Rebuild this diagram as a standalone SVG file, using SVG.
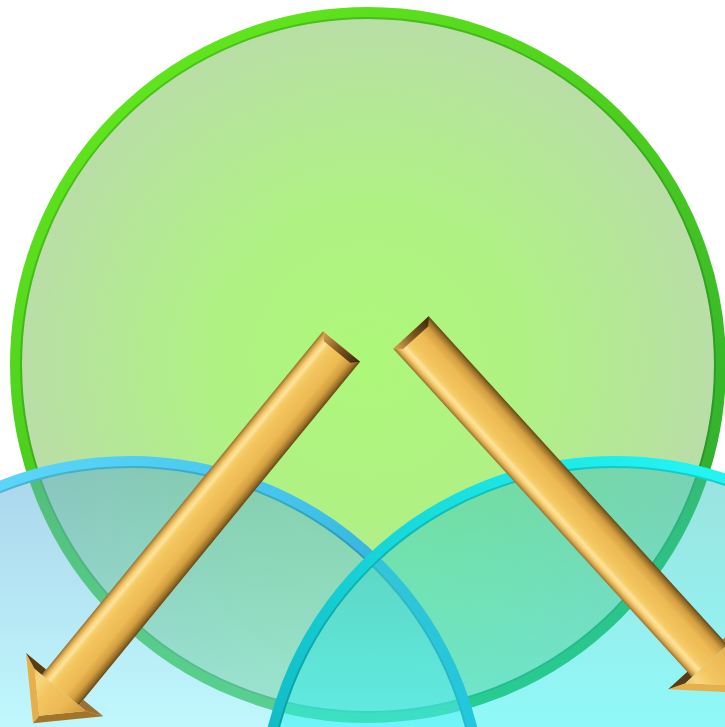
<svg xmlns="http://www.w3.org/2000/svg" xmlns:xlink="http://www.w3.org/1999/xlink" width="725" height="727" viewBox="0 0 725 727">
  <defs>
    <radialGradient id="greenFill" gradientUnits="userSpaceOnUse" cx="368" cy="360" r="351">
      <stop offset="0" stop-color="#adf87a"/>
      <stop offset="0.45" stop-color="#b0f184"/>
      <stop offset="0.8" stop-color="#b5e59a"/>
      <stop offset="1" stop-color="#badda8"/>
    </radialGradient>
    <linearGradient id="greenRing" gradientUnits="userSpaceOnUse" x1="150" y1="0" x2="600" y2="730">
      <stop offset="0" stop-color="#64ea1c"/>
      <stop offset="0.4" stop-color="#4cce1e"/>
      <stop offset="0.75" stop-color="#36b62a"/>
      <stop offset="1" stop-color="#22a244"/>
    </linearGradient>
    <linearGradient id="leftFill" gradientUnits="userSpaceOnUse" x1="0" y1="457" x2="0" y2="727">
      <stop offset="0" stop-color="#56a8d6" stop-opacity="0.5"/>
      <stop offset="1" stop-color="#80f0fa" stop-opacity="0.5"/>
    </linearGradient>
    <linearGradient id="leftRing" gradientUnits="userSpaceOnUse" x1="0" y1="460" x2="480" y2="727">
      <stop offset="0" stop-color="#5cd6fa"/>
      <stop offset="0.5" stop-color="#44c4ec"/>
      <stop offset="1" stop-color="#229cc6"/>
    </linearGradient>
    <linearGradient id="rightFill" gradientUnits="userSpaceOnUse" x1="0" y1="457" x2="0" y2="727">
      <stop offset="0" stop-color="#38c4bc" stop-opacity="0.5"/>
      <stop offset="1" stop-color="#22f2f2" stop-opacity="0.5"/>
    </linearGradient>
    <linearGradient id="rightRing" gradientUnits="userSpaceOnUse" x1="700" y1="460" x2="268" y2="727">
      <stop offset="0" stop-color="#22f4f4"/>
      <stop offset="0.5" stop-color="#18dede"/>
      <stop offset="1" stop-color="#12bcc6"/>
    </linearGradient>
    <linearGradient id="shaftGrad" gradientUnits="userSpaceOnUse" x1="0" y1="-24" x2="0" y2="24">
      <stop offset="0" stop-color="#654614"/>
      <stop offset="0.07" stop-color="#987028"/>
      <stop offset="0.18" stop-color="#d39e40"/>
      <stop offset="0.36" stop-color="#edba54"/>
      <stop offset="0.6" stop-color="#f2c35c"/>
      <stop offset="0.72" stop-color="#f6cd68"/>
      <stop offset="0.8" stop-color="#fce4a0"/>
      <stop offset="0.87" stop-color="#f6d072"/>
      <stop offset="0.94" stop-color="#d9a44c"/>
      <stop offset="1" stop-color="#94702f"/>
    </linearGradient>
    <linearGradient id="tailGrad" gradientUnits="userSpaceOnUse" x1="0" y1="-24" x2="0" y2="24">
      <stop offset="0" stop-color="#3a260a"/>
      <stop offset="0.5" stop-color="#7a5620"/>
      <stop offset="1" stop-color="#d8a850"/>
    </linearGradient>
    <linearGradient id="headGrad" gradientUnits="userSpaceOnUse" x1="0" y1="-33" x2="0" y2="33">
      <stop offset="0" stop-color="#cf983c"/>
      <stop offset="0.3" stop-color="#ebb854"/>
      <stop offset="0.65" stop-color="#f3c560"/>
      <stop offset="0.85" stop-color="#f8d67a"/>
      <stop offset="1" stop-color="#f0c462"/>
    </linearGradient>
    <g id="arrowShape">
      <rect x="0" y="-24" width="444" height="48" fill="url(#shaftGrad)"/>
      <polygon points="0,-24 0,24 7,17 7,-17" fill="url(#tailGrad)"/>
      <polygon points="437,50 487,0 477.1,0 444,33.1" fill="#e6af4a"/>
      <polygon points="437,-50 487,0 477.1,0 444,-33.1" fill="#a47428"/>
      <polygon points="437,24 437,50 444,33.1 444,24" fill="#5a3c12"/>
      <polygon points="437,-24 437,-50 444,-33.1 444,-24" fill="#9c7030"/>
      <polygon points="444,-33.1 477.1,0 444,33.1" fill="url(#headGrad)"/>
    </g>
  </defs>
  <style>
    .ring { fill: none; stroke-width: 12; }
    .edge { fill: none; stroke-width: 2; opacity: 0.2; stroke: #003020; }
  </style>

  <g id="green-circle">
    <circle cx="368" cy="365" r="352" fill="url(#greenFill)"/>
    <circle class="ring" cx="368" cy="365" r="352" stroke="url(#greenRing)"/>
    <circle class="edge" cx="368" cy="365" r="347"/>
  </g>

  <g id="circle-left">
    <circle cx="130" cy="814" r="352" fill="url(#leftFill)"/>
    <circle class="ring" cx="130" cy="814" r="352" stroke="url(#leftRing)"/>
    <circle class="edge" cx="130" cy="814" r="347"/>
  </g>

  <g id="circle-right">
    <circle cx="615" cy="814" r="352" fill="url(#rightFill)"/>
    <circle class="ring" cx="615" cy="814" r="352" stroke="url(#rightRing)"/>
    <circle class="edge" cx="615" cy="814" r="347"/>
  </g>

  <g id="connectors">
    <g id="arrow-left" transform="translate(341.5 346.5) rotate(129.3)">
      <use href="#arrowShape" xlink:href="#arrowShape"/>
    </g>
    <g id="arrow-right" transform="translate(411 332.5) rotate(47.7)">
      <use href="#arrowShape" xlink:href="#arrowShape"/>
    </g>
  </g>
</svg>
